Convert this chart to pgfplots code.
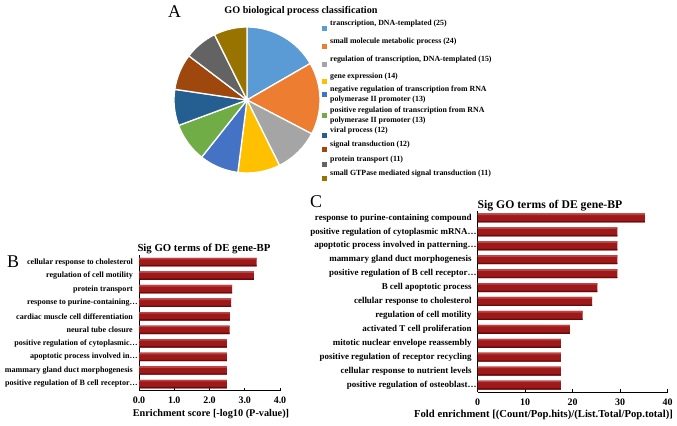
\documentclass[border=0pt]{standalone}
\usepackage{pgfplots}
\pgfplotsset{compat=1.18}
\usepackage{fontspec}
\setmainfont{Liberation Serif}

% Excel 2013 palette for the pie
\definecolor{cA}{HTML}{5B9BD5}
\definecolor{cB}{HTML}{ED7D31}
\definecolor{cC}{HTML}{A5A5A5}
\definecolor{cD}{HTML}{FFC000}
\definecolor{cE}{HTML}{4472C4}
\definecolor{cF}{HTML}{70AD47}
\definecolor{cG}{HTML}{255E91}
\definecolor{cH}{HTML}{9E480E}
\definecolor{cI}{HTML}{636363}
\definecolor{cJ}{HTML}{997300}
% bars
\definecolor{barTop}{HTML}{BE4444}
\definecolor{barMid}{HTML}{9E1A1A}
\definecolor{barBot}{HTML}{6A0A0A}

\newcommand\lblfont{\fontsize{8.1}{9}\selectfont\bfseries}
\newcommand\lblfontC{\fontsize{9}{10}\selectfont\bfseries}
\newcommand\legfont{\fontsize{7.9}{10}\selectfont\bfseries}
\newcommand\tr{\hspace*{5bp}}

\pgfplotsset{
  gobars/.style={
    scale only axis, xbar, clip=false,
    axis x line*=bottom, axis y line*=left,
    axis line style={black, line width=0.8bp},
    enlarge y limits=false,
    ytick=data, ytick style={draw=none},
    tick style={black, line width=0.6bp},
    major tick length=3bp, tick align=inside,
    /pgf/number format/assume math mode=true,
    xticklabel style={font=\fontsize{10}{12}\selectfont\bfseries, yshift=-3bp},
    yticklabel style={font=\lblfont, anchor=east, inner sep=0pt, xshift=-1bp},
  },
  gobar/.style={draw=none, fill=barMid, bar shift=0pt},
  % thin light strip on top and dark strip at bottom of each bar
  gotop/.style={draw=none, fill=barTop, bar width=1.6bp, bar shift=#1},
  gobot/.style={draw=none, fill=barBot, bar width=1.4bp, bar shift=#1},
}

\begin{document}
\begin{tikzpicture}
\useasboundingbox (0,0) rectangle (677bp,426bp);

% ---------- A: pie ----------
\node[font=\fontsize{18}{18}\selectfont] at (174.5bp,414bp) {A};
\node[font=\fontsize{10.2}{12}\selectfont\bfseries] at (301bp,415bp) {GO biological process classification};

\begin{axis}[
  scale only axis, hide axis,
  at={(174bp,253bp)}, anchor=south west,
  width=146bp, height=146bp,
  xmin=-1, xmax=1, ymin=-1, ymax=1,
]
% counts out of 150 -> 2.4 degrees each
\gdef\cum{0}
\foreach \v/\c in {25/cA, 24/cB, 15/cC, 14/cD, 13/cE, 13/cF, 12/cG, 12/cH, 11/cI, 11/cJ} {
  \pgfmathsetmacro\a{90-\cum*2.4}
  \pgfmathsetmacro\b{90-(\cum+\v)*2.4}
  \edef\temp{\noexpand\fill[\c, draw=white, line width=1.3bp]
     (axis cs:0,0) -- ++(\a:73bp) arc[start angle=\a, end angle=\b, radius=73bp] -- cycle;}
  \temp
  \pgfmathsetmacro\n{\cum+\v}
  \xdef\cum{\n}
}
\end{axis}

% legend of the pie
\foreach \y/\c/\t in {
   24/cA/{transcription, DNA-templated (25)},
   41.7/cB/{small molecule metabolic process (24)},
   59.3/cC/{regulation of transcription, DNA-templated (15)},
   76.7/cD/{gene expression (14)},
   130.7/cG/{viral process (12)},
   145/cH/{signal transduction (12)},
   159.3/cI/{protein transport (11)},
   173.3/cJ/{small GTPase mediated signal transduction (11)}} {
  \fill[\c] (322bp,{(423.5-\y)*1bp}) rectangle ++(5bp,-5bp);
  \node[font=\legfont, anchor=west, inner sep=0pt] at (330bp,{(426-\y)*1bp}) {\t};
}
\fill[cE] (322bp,{(423.5-89.3)*1bp}) rectangle ++(5bp,-5bp);
\node[font=\legfont, anchor=west, inner sep=0pt, align=left] at (330bp,{(426-94.3)*1bp})
  {negative regulation of transcription from RNA\\polymerase II promoter (13)};
\fill[cF] (322bp,{(423.5-110.7)*1bp}) rectangle ++(5bp,-5bp);
\node[font=\legfont, anchor=west, inner sep=0pt, align=left] at (330bp,{(426-115.4)*1bp})
  {positive regulation of transcription from RNA\\polymerase II promoter (13)};

% ---------- B ----------
\node[font=\fontsize{18}{18}\selectfont] at (13bp,164bp) {B};
\node[font=\fontsize{10.8}{13}\selectfont\bfseries] at (204bp,177.5bp) {Sig GO terms of DE gene-BP};
\node[font=\fontsize{10.3}{12}\selectfont\bfseries] at (211bp,11.5bp) {Enrichment score [-log10 (P-value)]};

\pgfplotstableread{
val  pos
2.49 0
2.49 1
2.49 2
2.49 3
2.57 4
2.58 5
2.61 6
2.64 7
3.26 8
3.34 9
}\tabB

\begin{axis}[gobars,
  at={(139bp,35.2bp)}, anchor=south west,
  width=141bp, height=135.5bp,
  bar width=8.5bp,
  xmin=0, xmax=4, ymin=-0.5, ymax=9.5,
  xtick={0,1,2,3,4},
  xticklabel style={/pgf/number format/.cd, fixed, fixed zerofill, precision=1},
  yticklabels={
    positive regulation of B cell receptor…,
    mammary gland duct morphogenesis\tr,
    apoptotic process involved in…,
    positive regulation of cytoplasmic…,
    neural tube closure\tr,
    cardiac muscle cell differentiation\tr,
    response to purine-containing…,
    protein transport\tr,
    regulation of cell motility\tr,
    cellular response to cholesterol\tr},
]
\addplot[gobar] table[x=val, y=pos] {\tabB};
\addplot[gotop=3.45bp] table[x=val, y=pos] {\tabB};
\addplot[gobot=-3.55bp] table[x=val, y=pos] {\tabB};
\end{axis}

% ---------- C ----------
\node[font=\fontsize{18}{18}\selectfont] at (316bp,224bp) {C};
\node[font=\fontsize{11.75}{14}\selectfont\bfseries] at (550bp,220bp) {Sig GO terms of DE gene-BP};
\node[font=\fontsize{10.7}{12}\selectfont\bfseries] at (543.5bp,11.5bp) {Fold enrichment [(Count/Pop.hits)/(List.Total/Pop.total)]};

\pgfplotstableread{
val  pos
17.5 0
17.5 1
17.5 2
17.5 3
19.4 4
22.1 5
24.1 6
25.2 7
29.4 8
29.4 9
29.4 10
29.4 11
35.2 12
}\tabC

\begin{axis}[gobars,
  at={(477.7bp,34bp)}, anchor=south west,
  width=190bp, height=181bp,
  bar width=9bp,
  xmin=0, xmax=40, ymin=-0.5, ymax=12.5,
  xtick={0,10,20,30,40},
  yticklabel style={font=\lblfontC},
  yticklabels={
    positive regulation of osteoblast…,
    cellular response to nutrient levels\tr,
    positive regulation of receptor recycling\tr,
    mitotic nuclear envelope reassembly\tr,
    activated T cell proliferation\tr,
    regulation of cell motility\tr,
    cellular response to cholesterol\tr,
    B cell apoptotic process\tr,
    positive regulation of B cell receptor…,
    mammary gland duct morphogenesis\tr,
    apoptotic process involved in patterning…,
    positive regulation of cytoplasmic mRNA…,
    response to purine-containing compound\tr},
]
\addplot[gobar] table[x=val, y=pos] {\tabC};
\addplot[gotop=3.7bp] table[x=val, y=pos] {\tabC};
\addplot[gobot=-3.8bp] table[x=val, y=pos] {\tabC};
\end{axis}
\end{tikzpicture}
\end{document}
